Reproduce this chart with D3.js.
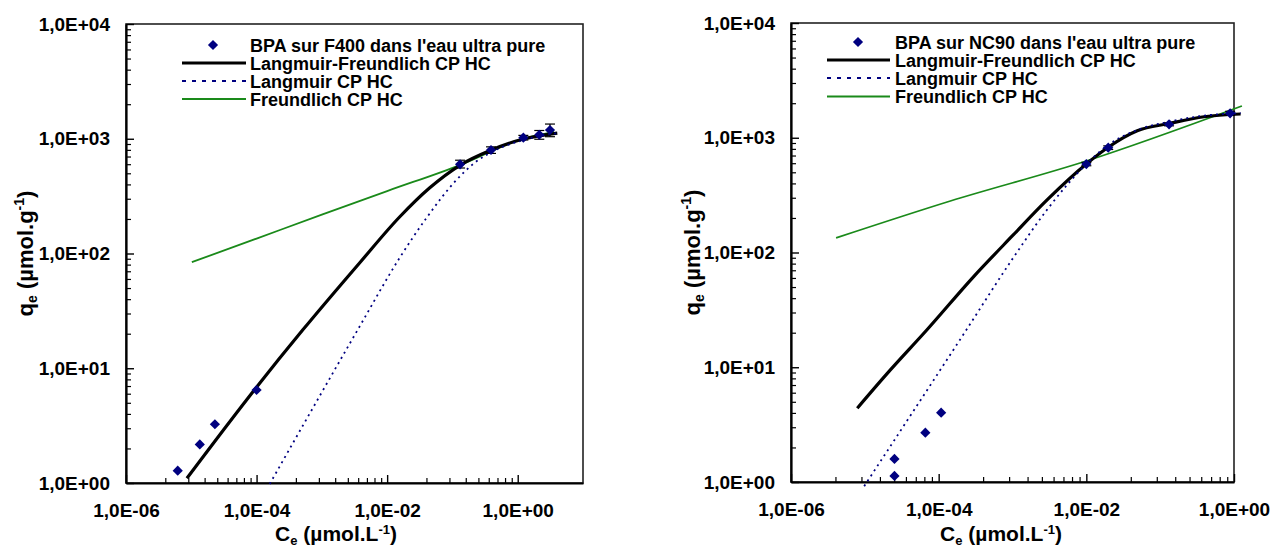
<!DOCTYPE html>
<html>
<head>
<meta charset="utf-8">
<script src="https://cdn.jsdelivr.net/npm/d3@7/dist/d3.min.js"></script>
<style>
  html, body { margin: 0; padding: 0; background: #fff; }
  svg text { font-family: "Liberation Sans", Arial, sans-serif; font-weight: bold; fill: #000; }
</style>
</head>
<body>
<svg id="chart" width="1274" height="547"></svg>
<script>
// ---------- tick labels ----------
const xTickValsLeft = [1e-6, 1e-4, 1e-2, 1e0];
const xTickValsRight = [1e-6, 1e-4, 1e-2, 1e0];
const xTickLabels = ["1,0E-06", "1,0E-04", "1,0E-02", "1,0E+00"];
const yTickVals = [1e0, 1e1, 1e2, 1e3, 1e4];
const yTickLabels = ["1,0E+00", "1,0E+01", "1,0E+02", "1,0E+03", "1,0E+04"];

// ---------- legend texts ----------
const legendLeft = ["BPA sur F400 dans l'eau ultra pure", "Langmuir-Freundlich CP HC", "Langmuir CP HC", "Freundlich CP HC"];
const legendRight = ["BPA sur NC90 dans l'eau ultra pure", "Langmuir-Freundlich CP HC", "Langmuir CP HC", "Freundlich CP HC"];

// ---------- F400 (left) ----------
const f400Ce = [6.2e-6, 1.35e-5, 2.3e-5, 1.0e-4, 0.131, 0.39, 1.22, 2.14, 3.12];
const f400Qe = [1.28, 2.17, 3.25, 6.46, 599, 798, 1021, 1084, 1192];
const f400ErrLo = [null, null, null, null, 556, 745, 975, 990, 1042];
const f400ErrHi = [null, null, null, null, 650, 850, 1070, 1180, 1343];

const f400LF_C = [8.57e-6, 9.7e-5, 5.08e-4, 3.78e-3, 1.55e-2, 4.45e-2, 0.132, 0.394, 1.22, 4.04];
const f400LF_q = [1.1, 6.7, 21.5, 82.7, 208, 372, 590, 798, 995, 1120];

const f400L_C = [1.59e-4, 3.52e-3, 1.55e-2, 4.0e-2, 0.115, 0.217, 0.401, 1.22, 4.04];
const f400L_q = [0.98, 21.5, 91.4, 204, 437, 615, 767, 975, 1120];

const f400F_C = [1.02e-5, 1e-4, 1e-3, 1e-2, 0.131, 1.2, 3.6];
const f400F_q = [84, 135, 218, 350, 590, 1000, 1150];

// ---------- NC90 (right) ----------
const nc90Ce = [2.52e-5, 2.52e-5, 6.6e-5, 1.08e-4, 1.0e-2, 1.98e-2, 0.132, 0.886];
const nc90Qe = [1.13, 1.59, 2.69, 4.02, 590, 819, 1310, 1633];
const nc90ErrLo = [null, null, null, null, 570, 790, 1270, 1570];
const nc90ErrHi = [null, null, null, null, 610, 850, 1350, 1700];

const nc90LF_C = [7.9e-6, 2e-5, 6.9e-5, 3e-4, 1e-3, 2.94e-3, 1e-2, 2e-2, 4.9e-2, 0.132, 0.394, 1.23];
const nc90LF_q = [4.4, 8.8, 21.1, 62, 140, 287, 590, 830, 1150, 1330, 1525, 1610];

const nc90L_C = [9.8e-6, 2.14e-4, 1e-3, 3e-3, 1e-2, 2e-2, 5.7e-2, 0.132, 0.4, 1.23];
const nc90L_q = [0.92, 19.1, 88, 240, 590, 870, 1209, 1380, 1560, 1640];

const nc90F_C = [4.08e-6, 1.44e-4, 1.0e-2, 1.28];
const nc90F_q = [134, 281, 627, 1891];

// ---------- drawing ----------
const svg = d3.select("#chart");
const NAVY = "#000080", GREEN = "#1a8a1a";

function minorTicks(majors, sq) {
  const out = [];
  for (let i = 0; i < majors.length - 1; i++) {
    for (let k = 2; k <= 9; k++) out.push(majors[i] * (sq ? k * k : k));
  }
  return out;
}

function panel(cfg) {
  const x = d3.scaleLog().domain(cfg.xDomain).range([cfg.x0, cfg.x1]);
  const y = d3.scaleLog().domain([1, 1e4]).range([cfg.y1, cfg.y0]);
  const g = svg.append("g");

  // frame
  g.append("rect").attr("x", cfg.x0).attr("y", cfg.y0)
    .attr("width", cfg.x1 - cfg.x0).attr("height", cfg.y1 - cfg.y0)
    .attr("fill", "none").attr("stroke", "#222").attr("stroke-width", 1.6);

  // y axis
  const yMinor = minorTicks(yTickVals, false);
  g.append("g").attr("transform", `translate(${cfg.x0},0)`)
    .call(d3.axisLeft(y).tickValues(yMinor).tickSizeInner(-5).tickSizeOuter(0).tickFormat(""))
    .call(s => s.select(".domain").remove())
    .call(s => s.selectAll("line").attr("stroke", "#000").attr("stroke-width", 1.2));
  g.append("g").attr("transform", `translate(${cfg.x0},0)`)
    .call(d3.axisLeft(y).tickValues(yTickVals).tickSizeInner(-8).tickSizeOuter(0).tickPadding(16)
      .tickFormat((d, i) => yTickLabels[i]))
    .call(s => s.select(".domain").attr("stroke", "#000").attr("stroke-width", 2.2))
    .call(s => s.selectAll("line").attr("stroke", "#000").attr("stroke-width", 1.4))
    .call(s => s.selectAll("text").attr("font-size", 19).attr("font-family", null).attr("fill", "#000"));

  // x axis
  const xMinor = minorTicks(cfg.xTicks, true).filter(v => v < cfg.xDomain[1]);
  g.append("g").attr("transform", `translate(0,${cfg.y1})`)
    .call(d3.axisBottom(x).tickValues(xMinor).tickSizeInner(-5).tickSizeOuter(0).tickFormat(""))
    .call(s => s.select(".domain").remove())
    .call(s => s.selectAll("line").attr("stroke", "#000").attr("stroke-width", 1.2));
  g.append("g").attr("transform", `translate(0,${cfg.y1})`)
    .call(d3.axisBottom(x).tickValues(cfg.xTicks).tickSizeInner(-8).tickSizeOuter(0).tickPadding(21)
      .tickFormat((d, i) => xTickLabels[i]))
    .call(s => s.select(".domain").attr("stroke", "#000").attr("stroke-width", 2.2))
    .call(s => s.selectAll("line").attr("stroke", "#000").attr("stroke-width", 1.4))
    .call(s => s.selectAll("text").attr("font-size", 19).attr("font-family", null).attr("fill", "#000"));

  const line = d3.line().x(d => x(d[0])).y(d => y(d[1])).curve(d3.curveMonotoneX);
  const zip = (a, b) => a.map((v, i) => [v, b[i]]);

  // Freundlich
  g.append("path").attr("d", line(zip(cfg.F_C, cfg.F_q)))
    .attr("fill", "none").attr("stroke", GREEN).attr("stroke-width", 1.8);
  // Langmuir-Freundlich
  g.append("path").attr("d", line(zip(cfg.LF_C, cfg.LF_q)))
    .attr("fill", "none").attr("stroke", "#000").attr("stroke-width", 3.2);
  // Langmuir
  g.append("path").attr("d", line(zip(cfg.L_C, cfg.L_q)))
    .attr("fill", "none").attr("stroke", NAVY).attr("stroke-width", 1.8)
    .attr("stroke-dasharray", "2,4");

  // error bars
  cfg.Ce.forEach((c, i) => {
    if (cfg.errLo[i] == null) return;
    const xx = x(c), ya = y(cfg.errLo[i]), yb = y(cfg.errHi[i]);
    g.append("line").attr("x1", xx).attr("x2", xx).attr("y1", ya).attr("y2", yb)
      .attr("stroke", "#000").attr("stroke-width", 1.2);
    [ya, yb].forEach(yy => g.append("line").attr("x1", xx - 5).attr("x2", xx + 5)
      .attr("y1", yy).attr("y2", yy).attr("stroke", "#000").attr("stroke-width", 1.2));
  });

  // markers
  const sym = d3.symbol(d3.symbolSquare, 52);
  g.selectAll(".pt").data(zip(cfg.Ce, cfg.Qe)).join("path")
    .attr("d", sym).attr("fill", NAVY)
    .attr("transform", d => `translate(${x(d[0])},${y(d[1])}) rotate(45)`);

  // legend
  const L = cfg.legend;
  L.rows.forEach((ry, i) => {
    g.append("text").attr("x", L.tx).attr("y", ry + 6.5).attr("font-size", 18).text(cfg.legendText[i]);
  });
  g.append("path").attr("d", d3.symbol(d3.symbolSquare, 52)).attr("fill", NAVY)
    .attr("transform", `translate(${L.sx},${L.rows[0]}) rotate(45)`);
  g.append("line").attr("x1", L.l0).attr("x2", L.l1).attr("y1", L.rows[1]).attr("y2", L.rows[1])
    .attr("stroke", "#000").attr("stroke-width", 3.2);
  g.append("line").attr("x1", L.l0).attr("x2", L.l1).attr("y1", L.rows[2]).attr("y2", L.rows[2])
    .attr("stroke", NAVY).attr("stroke-width", 2).attr("stroke-dasharray", "4,6");
  g.append("line").attr("x1", L.l0).attr("x2", L.l1).attr("y1", L.rows[3]).attr("y2", L.rows[3])
    .attr("stroke", GREEN).attr("stroke-width", 2);

  // axis titles
  const xt = g.append("text").attr("x", cfg.xTitleX).attr("y", 541).attr("font-size", 21).attr("text-anchor", "middle");
  xt.append("tspan").text("C");
  xt.append("tspan").attr("font-size", 13).attr("dy", 4).text("e");
  xt.append("tspan").attr("dy", -4).text(" (µmol.L");
  xt.append("tspan").attr("font-size", 13).attr("dy", -7).text("-1");
  xt.append("tspan").attr("dy", 7).text(")");

  const yt = g.append("text").attr("transform", `translate(${cfg.yTitleX},${(cfg.y0 + cfg.y1) / 2}) rotate(-90)`)
    .attr("font-size", 22).attr("text-anchor", "middle");
  yt.append("tspan").text("q");
  yt.append("tspan").attr("font-size", 14).attr("dy", 4).text("e");
  yt.append("tspan").attr("dy", -4).text(" (µmol.g");
  yt.append("tspan").attr("font-size", 14).attr("dy", -9).text("-1");
  yt.append("tspan").attr("dy", 9).text(")");
}

panel({
  x0: 126, x1: 583, y0: 24, y1: 483, xDomain: [1e-6, 1e1], xTicks: xTickValsLeft,
  Ce: f400Ce, Qe: f400Qe, errLo: f400ErrLo, errHi: f400ErrHi,
  LF_C: f400LF_C, LF_q: f400LF_q, L_C: f400L_C, L_q: f400L_q, F_C: f400F_C, F_q: f400F_q,
  legendText: legendLeft,
  legend: { sx: 213, l0: 182, l1: 246, tx: 250, rows: [45, 63, 81, 99] },
  xTitleX: 336, yTitleX: 33
});
panel({
  x0: 791, x1: 1234, y0: 23, y1: 482, xDomain: [1e-6, 1e0], xTicks: xTickValsRight,
  Ce: nc90Ce, Qe: nc90Qe, errLo: nc90ErrLo, errHi: nc90ErrHi,
  LF_C: nc90LF_C, LF_q: nc90LF_q, L_C: nc90L_C, L_q: nc90L_q, F_C: nc90F_C, F_q: nc90F_q,
  legendText: legendRight,
  legend: { sx: 858, l0: 827, l1: 890, tx: 895, rows: [42, 60, 78, 96.5] },
  xTitleX: 1001, yTitleX: 700
});
</script>
</body>
</html>
